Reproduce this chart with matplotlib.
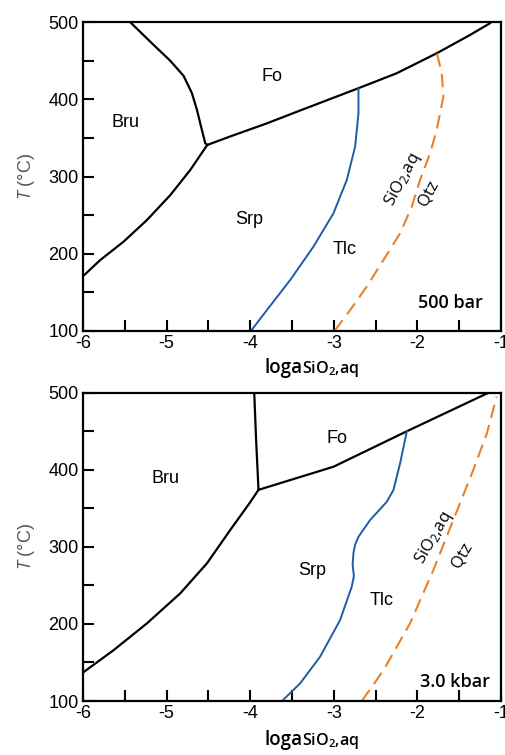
import matplotlib
matplotlib.use("Agg")
import matplotlib.pyplot as plt

plt.rcParams['font.family'] = ['Liberation Sans', 'DejaVu Sans']
plt.rcParams['mathtext.fontset'] = 'custom'
plt.rcParams['mathtext.rm'] = 'Open Sans'
plt.rcParams['mathtext.it'] = 'Open Sans:italic'

# ---------------- Data: 500 bar ----------------
p1_bru_fo_x = [-5.435, -5.156, -4.956, -4.797, -4.697, -4.637, -4.578, -4.538, -4.514]
p1_bru_fo_T = [500, 470.6, 450, 430.5, 408, 386.4, 360.4, 343.2, 341]
p1_bru_srp_x = [-4.514, -4.717, -4.956, -5.235, -5.515, -5.793, -6.0]
p1_bru_srp_T = [341, 308.6, 276, 243.8, 215.7, 192, 171]
p1_fo_x = [-4.514, -4.239, -3.80, -3.442, -2.705, -2.247, -1.768, -1.37, -1.131]
p1_fo_T = [341, 352, 369, 384, 414.5, 433.9, 459.8, 483.5, 498.7]
p1_tlc_x = [-3.992, -3.80, -3.522, -3.244, -3.004, -2.845, -2.745, -2.705, -2.705]
p1_tlc_T = [100, 127.2, 166, 209.2, 252.5, 295.6, 338.8, 382, 414]
p1_qtz_x = [-2.992, -2.805, -2.606, -2.406, -2.207, -2.068, -1.968, -1.849, -1.769, -1.689, -1.709, -1.768]
p1_qtz_T = [100, 127, 157.5, 192, 226.6, 261, 295.7, 330, 360.5, 403.7, 434, 460]

# ---------------- Data: 3.0 kbar ----------------
p2_bru_fo_x = [-3.952, -3.93, -3.901]
p2_bru_fo_T = [500, 440, 374]
p2_bru_srp_x = [-3.901, -4.0, -4.239, -4.518, -4.837, -5.235, -5.634, -6.0]
p2_bru_srp_T = [374, 358, 321.9, 278.6, 239.7, 200.8, 166, 137]
p2_fo_x = [-3.901, -3.004, -2.127, -1.15]
p2_fo_T = [374, 404, 450, 500]
p2_tlc_x = [-3.62, -3.403, -3.164, -2.925, -2.785, -2.76, -2.775, -2.765, -2.745, -2.706, -2.566,
            -2.366, -2.287, -2.207, -2.127]
p2_tlc_T = [100, 122.9, 157.5, 205, 248.5, 262, 277, 292, 303, 313, 334.8, 358.6, 373.8, 408.4, 450]
p2_qtz_x = [-2.665, -2.406, -2.088, -1.809, -1.57, -1.331, -1.17, -1.052]
p2_qtz_T = [100, 140, 200.8, 270, 335, 400, 447, 495]

panels = [
    dict(bf=(p1_bru_fo_x, p1_bru_fo_T), bs=(p1_bru_srp_x, p1_bru_srp_T), fo=(p1_fo_x, p1_fo_T),
         tlc=(p1_tlc_x, p1_tlc_T), qtz=(p1_qtz_x, p1_qtz_T),
         labels=[("Fo", -3.741, 429.6), ("Bru", -5.486, 370), ("Srp", -4.008, 244.7), ("Tlc", -2.876, 206)],
         sio2=(-2.17, 296, 62), qtz_lab=(-1.87, 278.4, 62), pres=("500 bar", -1.61, 136), xl_off=-42),
    dict(bf=(p2_bru_fo_x, p2_bru_fo_T), bs=(p2_bru_srp_x, p2_bru_srp_T), fo=(p2_fo_x, p2_fo_T),
         tlc=(p2_tlc_x, p2_tlc_T), qtz=(p2_qtz_x, p2_qtz_T),
         labels=[("Fo", -2.964, 440.8), ("Bru", -5.016, 389), ("Srp", -3.263, 270), ("Tlc", -2.426, 231)],
         sio2=(-1.81, 311, 60), qtz_lab=(-1.47, 289, 60), pres=("3.0 kbar", -1.55, 124.6), xl_off=-44),
]

fig = plt.figure(figsize=(5.05, 7.55), dpi=100)
rects = [[0.1644, 0.5616, 0.8277, 0.409], [0.1644, 0.0715, 0.8277, 0.4083]]

blue = '#1f5ca8'
orange = '#e8822a'

for rect, p in zip(rects, panels):
    ax = fig.add_axes(rect)
    ax.plot(*p['bf'], color='black', lw=1.6, solid_joinstyle='round')
    ax.plot(*p['bs'], color='black', lw=1.6, solid_joinstyle='round')
    ax.plot(*p['fo'], color='black', lw=1.6, solid_joinstyle='round')
    ax.plot(*p['tlc'], color=blue, lw=1.4, solid_joinstyle='round')
    ax.plot(*p['qtz'], color=orange, lw=1.5, dashes=(6.5, 3.5))
    ax.set_xlim(-6, -1)
    ax.set_ylim(100, 500)
    ax.set_xticks([-6, -5, -4, -3, -2, -1])
    ax.set_xticklabels(['-6', '-5', '-4', '-3', '-2', '-1'])
    ax.set_xticks([-5.5, -4.5, -3.5, -2.5, -1.5], minor=True)
    ax.set_yticks([100, 200, 300, 400, 500])
    ax.set_yticks([150, 250, 350, 450], minor=True)
    ax.tick_params(which='both', direction='in', length=8, width=1.5, labelsize=13,
                   top=False, right=False, pad=3)
    for s in ax.spines.values():
        s.set_linewidth(1.6)
    ax.set_ylabel(r'$\it{T}$ (°C)', fontsize=13, color='#555555', labelpad=8)
    # x label: "loga" + smaller "SiO2,aq"
    ax.annotate('loga', xy=(-3.379, 0), xycoords=('data', 'axes fraction'),
                xytext=(0, p['xl_off']), textcoords='offset pixels',
                ha='right', va='baseline', fontsize=13.5, fontweight='semibold', family='Open Sans',
                annotation_clip=False)
    ax.annotate(r'SiO$\mathregular{_2}$,aq', xy=(-3.379, 0), xycoords=('data', 'axes fraction'),
                xytext=(0, p['xl_off']), textcoords='offset pixels',
                ha='left', va='baseline', fontsize=11.5, fontweight='semibold', family='Open Sans',
                annotation_clip=False)
    for t, x, y in p['labels']:
        ax.text(x, y, t, fontsize=13, ha='center', va='center')
    sx, sy, rot = p['sio2']
    ax.text(sx, sy, r'SiO$\mathregular{_2}$,aq', fontsize=12, ha='center', va='center', rotation=rot,
            rotation_mode='anchor', family='Open Sans')
    qx, qy, rot = p['qtz_lab']
    ax.text(qx, qy, 'Qtz', fontsize=12, ha='center', va='center', rotation=rot,
            rotation_mode='anchor', family='Open Sans')
    t, x, y = p['pres']
    ax.text(x, y, t, fontsize=13, ha='center', va='center', family='Open Sans', fontweight='semibold')

fig.savefig('out.png', dpi=100)
